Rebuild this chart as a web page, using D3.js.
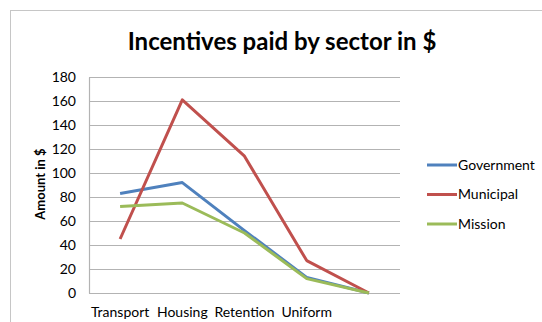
<!DOCTYPE html>
<html lang="en">
<head>
  <meta charset="UTF-8">
  <title>Incentives paid by sector in $</title>
  <style>
    body { margin: 0; background: #fff; }
    svg { display: block; font-family: Lato, "Open Sans", sans-serif; }
  </style>
</head>
<body>
  <script src="https://d3js.org/d3.v7.min.js"></script>
  <script>
    // data
    const categories = ['Transport', 'Housing', 'Retention', 'Uniform', '']
    const government = [83, 92, 52, 13, 0]
    const municipal = [45, 161, 114, 27, 0]
    const mission = [72, 75, 50, 12, 0]
    const yTicks = [0, 20, 40, 60, 80, 100, 120, 140, 160, 180]

    const series = [
      { name: 'Government', values: government, color: '#4f81bd' },
      { name: 'Municipal', values: municipal, color: '#c0504d' },
      { name: 'Mission', values: mission, color: '#9bbb59' }
    ]

    const width = 542, height = 322
    const plot = { left: 89, right: 400, top: 77, bottom: 293 }

    const svg = d3.select('body').append('svg')
      .attr('width', width)
      .attr('height', height)

    // chart frame
    svg.append('rect')
      .attr('x', 10.5).attr('y', 10.5)
      .attr('width', width).attr('height', height)
      .attr('fill', 'none')
      .attr('stroke', '#c6c6c6')

    svg.append('text')
      .attr('x', 282).attr('y', 50)
      .attr('text-anchor', 'middle')
      .attr('font-size', 24)
      .attr('font-weight', 'bold')
      .text('Incentives paid by sector in $')

    let x = d3.scaleBand().domain(categories).range([plot.left, plot.right])
    let y = d3.scaleLinear().domain([0, 180]).range([plot.bottom, plot.top])

    // gridlines
    svg.append('g')
      .selectAll('line')
      .data(yTicks)
      .join('line')
      .attr('x1', plot.left).attr('x2', plot.right)
      .attr('y1', d => Math.round(y(d)) + 0.5)
      .attr('y2', d => Math.round(y(d)) + 0.5)
      .attr('stroke', '#b3b3b3')
      .attr('stroke-width', 1.2)

    // y axis
    svg.append('g')
      .attr('transform', `translate(${plot.left}, 0)`)
      .call(d3.axisLeft(y).tickValues(yTicks).tickSize(0).tickPadding(13))
      .call(g => g.select('.domain').attr('stroke', '#b3b3b3').attr('stroke-width', 1.2))
      .call(g => g.selectAll('text').attr('font-size', 14).attr('fill', '#000')
        .attr('font-family', 'Lato, sans-serif'))

    // x axis labels
    svg.append('g')
      .attr('transform', `translate(0, ${plot.bottom})`)
      .call(d3.axisBottom(x).tickSize(0).tickPadding(14))
      .call(g => g.select('.domain').remove())
      .call(g => g.selectAll('text').attr('font-size', 14).attr('fill', '#000')
        .attr('font-family', 'Lato, sans-serif'))

    svg.append('text')
      .attr('transform', 'translate(45, 184) rotate(-90)')
      .attr('text-anchor', 'middle')
      .attr('font-size', 13)
      .attr('font-weight', 'bold')
      .text('Amount in $')

    const line = d3.line()
      .x((d, i) => x(categories[i]) + x.bandwidth() / 2)
      .y(d => y(d))

    svg.append('g')
      .selectAll('path')
      .data(series)
      .join('path')
      .attr('d', d => line(d.values))
      .attr('fill', 'none')
      .attr('stroke', d => d.color)
      .attr('stroke-width', 3)
      .attr('stroke-linejoin', 'round')

    // legend
    let legend = svg.append('g')
      .selectAll('g')
      .data(series)
      .join('g')
      .attr('transform', (d, i) => `translate(427, ${165 + i * 29.5})`)

    legend.append('line')
      .attr('x1', 0).attr('x2', 30)
      .attr('stroke', d => d.color)
      .attr('stroke-width', 3)

    legend.append('text')
      .attr('x', 31)
      .attr('dy', '0.35em')
      .attr('font-size', 14)
      .text(d => d.name)
  </script>
</body>
</html>
